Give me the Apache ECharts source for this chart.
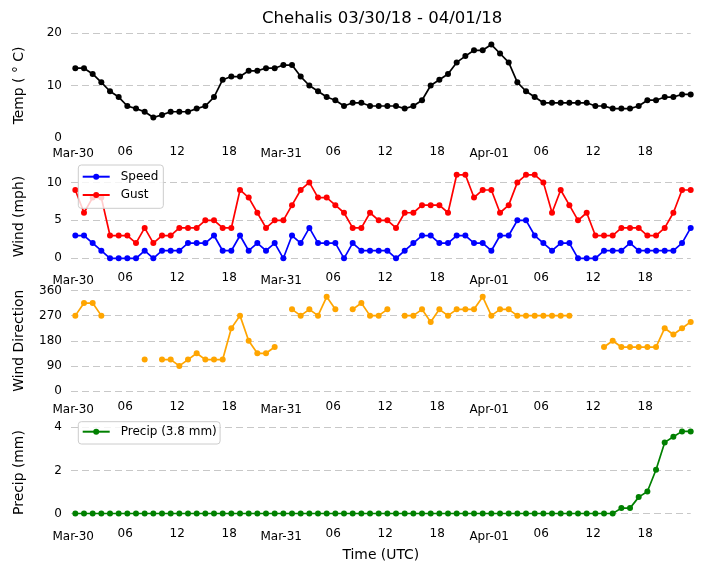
<!DOCTYPE html>
<html>
<head>
<meta charset="utf-8">
<title>Chehalis 03/30/18 - 04/01/18</title>
<script src="https://cdn.jsdelivr.net/npm/echarts@6/dist/echarts.min.js"></script>
<style>
  html, body { margin: 0; padding: 0; background: #fff; }
  #chart { width: 704px; height: 573px; }
</style>
</head>
<body>
<div id="chart"></div>
<script>
// hourly obs, Mar-30 00:15 UTC .. Apr-01 23:15 UTC
const dayNames = ['Mar-30', 'Mar-31', 'Apr-01'];
const timeTicks = [0, 6, 12, 18, 24, 30, 36, 42, 48, 54, 60, 66];

const temp = [13.3, 13.3, 12.2, 10.6, 8.9, 7.8, 6.1, 5.6, 5.0, 3.9,
  4.4, 5.0, 5.0, 5.0, 5.6, 6.1, 7.8, 11.1, 11.7, 11.7,
  12.8, 12.8, 13.3, 13.3, 13.9, 13.9, 11.7, 10.0, 8.9, 7.8,
  7.2, 6.1, 6.7, 6.7, 6.1, 6.1, 6.1, 6.1, 5.6, 6.1,
  7.2, 10.0, 11.1, 12.2, 14.4, 15.6, 16.7, 16.7, 17.8, 16.1,
  14.4, 10.6, 8.9, 7.8, 6.7, 6.7, 6.7, 6.7, 6.7, 6.7,
  6.1, 6.1, 5.6, 5.6, 5.6, 6.1, 7.2, 7.2, 7.8, 7.8, 8.3, 8.3];

const speed = [3, 3, 2, 1, 0, 0, 0, 0, 1, 0,
  1, 1, 1, 2, 2, 2, 3, 1, 1, 3,
  1, 2, 1, 2, 0, 3, 2, 4, 2, 2,
  2, 0, 2, 1, 1, 1, 1, 0, 1, 2,
  3, 3, 2, 2, 3, 3, 2, 2, 1, 3,
  3, 5, 5, 3, 2, 1, 2, 2, 0, 0,
  0, 1, 1, 1, 2, 1, 1, 1, 1, 1, 2, 4];

const gust = [9, 6, 8, 8, 3, 3, 3, 2, 4, 2,
  3, 3, 4, 4, 4, 5, 5, 4, 4, 9,
  8, 6, 4, 5, 5, 7, 9, 10, 8, 8,
  7, 6, 4, 4, 6, 5, 5, 4, 6, 6,
  7, 7, 7, 6, 11, 11, 8, 9, 9, 6,
  7, 10, 11, 11, 10, 6, 9, 7, 5, 6,
  3, 3, 3, 4, 4, 4, 3, 3, 4, 6, 9, 9];

const windDir = [270, 315, 315, 270, null, null, null, null, 112.5, null,
  112.5, 112.5, 90, 112.5, 135, 112.5, 112.5, 112.5, 225, 270,
  180, 135, 135, 157.5, null, 292.5, 270, 292.5, 270, 337.5,
  292.5, null, 292.5, 315, 270, 270, 292.5, null, 270, 270,
  292.5, 247.5, 292.5, 270, 292.5, 292.5, 292.5, 337.5, 270, 292.5,
  292.5, 270, 270, 270, 270, 270, 270, 270, null, null,
  null, 157.5, 180, 157.5, 157.5, 157.5, 157.5, 157.5, 225, 202.5, 225, 247.5];

const precip = [0, 0, 0, 0, 0, 0, 0, 0, 0, 0,
  0, 0, 0, 0, 0, 0, 0, 0, 0, 0,
  0, 0, 0, 0, 0, 0, 0, 0, 0, 0,
  0, 0, 0, 0, 0, 0, 0, 0, 0, 0,
  0, 0, 0, 0, 0, 0, 0, 0, 0, 0,
  0, 0, 0, 0, 0, 0, 0, 0, 0, 0,
  0, 0, 0, 0.25, 0.25, 0.76, 1.02, 2.03, 3.30, 3.56, 3.81, 3.81];

const tempTicks = [0, 10, 20];
const windTicks = [0, 5, 10];
const dirTicks = [0, 90, 180, 270, 360];
const precipTicks = [0, 2, 4];

const precipTotal = precip[precip.length - 1];
const hours = temp.map((_, i) => i + 0.25);
const pairs = vals => vals.map((v, i) => [hours[i], v]);

const font = 'DejaVu Sans';

// panel layout: pixel top/height + value range
const panels = [
  { top: 33, height: 105, min: 0, max: 20, labels: tempTicks, lines: [10, 20], name: 'Temp ( \u00b0 C)', margin: 6.7 },
  { top: 171, height: 91.1, min: -0.5, max: 11.5, labels: windTicks, lines: windTicks, name: 'Wind (mph)', margin: 8.9 },
  { top: 290.5, height: 100.5, min: 0, max: 360, labels: dirTicks, lines: dirTicks, name: 'Wind Direction', margin: 9 },
  { top: 427.3, height: 90.5, min: -0.2, max: 4.0, labels: precipTicks, lines: precipTicks, name: 'Precip (mm)', margin: 9.2 }
];

const grids = panels.map(p => ({ left: 71, right: 13.3, top: p.top, height: p.height }));

const xAxes = panels.map((p, i) => ({
  type: 'value',
  gridIndex: i,
  min: -0.25,
  max: 71.25,
  axisLine: { show: false, onZero: false },
  axisTick: { show: false },
  splitLine: { show: false },
  name: i === 3 ? 'Time (UTC)' : '',
  nameLocation: 'middle',
  nameGap: 31,
  nameTextStyle: { fontFamily: font, fontSize: 13.9, color: '#000' },
  axisLabel: {
    customValues: timeTicks,
    margin: p.margin,
    fontFamily: font,
    fontSize: 12,
    color: '#000',
    formatter: v => v % 24 === 0
      ? '{d|' + dayNames[v / 24] + '}'
      : '{h|' + String(v % 24).padStart(2, '0') + '}',
    rich: {
      d: { fontFamily: font, fontSize: 12, color: '#000', lineHeight: 19 },
      h: { fontFamily: font, fontSize: 12, color: '#000', lineHeight: 14 }
    }
  }
}));

const yAxes = panels.map((p, i) => ({
  type: 'value',
  gridIndex: i,
  min: p.min,
  max: p.max,
  name: p.name,
  nameLocation: 'middle',
  nameGap: 45,
  nameTextStyle: { fontFamily: font, fontSize: 13.9, color: '#000' },
  axisLine: { show: false },
  axisTick: { show: false, customValues: p.lines },
  axisLabel: { customValues: p.labels, margin: 9, fontFamily: font, fontSize: 12, color: '#000' },
  splitLine: { show: true, lineStyle: { color: '#c8c8c8', width: 1, type: [7, 4] } }
}));

function lineSeries(name, vals, color, idx) {
  return {
    name: name,
    type: 'line',
    xAxisIndex: idx,
    yAxisIndex: idx,
    data: pairs(vals),
    symbol: 'circle',
    symbolSize: 6,
    showSymbol: true,
    clip: false,
    connectNulls: false,
    lineStyle: { color: color, width: 1.7 },
    itemStyle: { color: color },
    emphasis: { disabled: true },
    animation: false
  };
}

const legendBase = {
  orient: 'vertical',
  itemWidth: 27,
  itemHeight: 7.5,
  itemGap: 4.3,
  backgroundColor: 'rgba(255,255,255,0.8)',
  borderColor: '#cccccc',
  borderWidth: 1,
  borderRadius: 3,
  textStyle: { fontFamily: font, fontSize: 12, color: '#000', lineHeight: 14, padding: [0, 0, 0, 6] },
  selectedMode: false
};

const chart = echarts.init(document.getElementById('chart'));
chart.setOption({
  animation: false,
  title: {
    text: 'Chehalis 03/30/18 - 04/01/18',
    left: 262,
    top: 10.5,
    padding: 0,
    textStyle: { fontFamily: font, fontSize: 16.5, fontWeight: 'normal', color: '#000' }
  },
  legend: [
    Object.assign({}, legendBase, { data: ['Speed', 'Gust'], left: 78.3, top: 165, padding: [4.7, 5, 6.3, 3.4] }),
    Object.assign({}, legendBase, { data: ['Precip (' + precipTotal.toFixed(1) + ' mm)'], left: 78.3, top: 421.7, padding: [3, 3.3, 5.3, 3.4] })
  ],
  grid: grids,
  xAxis: xAxes,
  yAxis: yAxes,
  series: [
    lineSeries('Temp', temp, '#000000', 0),
    lineSeries('Speed', speed, '#0000ff', 1),
    lineSeries('Gust', gust, '#ff0000', 1),
    lineSeries('Direction', windDir, '#ffa500', 2),
    lineSeries('Precip (' + precipTotal.toFixed(1) + ' mm)', precip, '#008000', 3)
  ]
});
</script>
</body>
</html>
